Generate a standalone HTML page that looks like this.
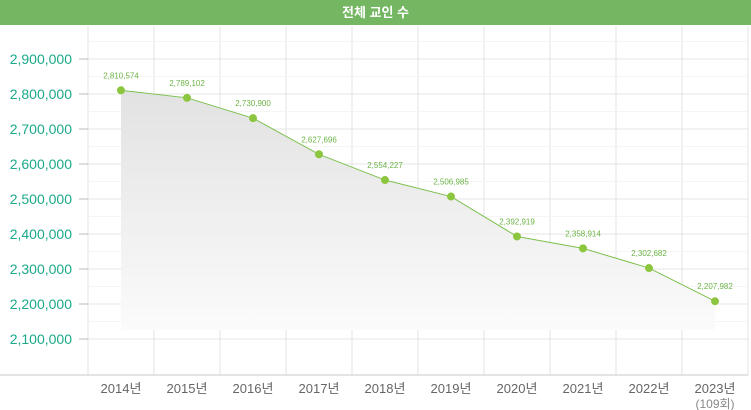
<!DOCTYPE html>
<html><head><meta charset="utf-8"><style>
body{margin:0;width:751px;height:410px;background:#fff;overflow:hidden;font-family:"Liberation Sans","Noto Sans CJK KR",sans-serif}
#hdr{position:absolute;left:0;top:0;width:751px;height:25px;background:#74b662;color:#fff;font-size:13px;font-weight:bold;text-align:center;line-height:25px}
svg{position:absolute;left:0;top:0}
</style></head><body>
<div id="hdr">전체 교인 수</div>
<svg id="c" width="751" height="410">
<defs><linearGradient id="g" x1="0" y1="0" x2="0" y2="1"><stop offset="0" stop-color="#e2e2e2"/><stop offset="1" stop-color="#fbfbfb"/></linearGradient></defs>
</svg>
<script>
const categories=["2014년","2015년","2016년","2017년","2018년","2019년","2020년","2021년","2022년","2023년"];
const values=[2810574,2789102,2730900,2627696,2554227,2506985,2392919,2358914,2302682,2207982];
const yTicks=[2100000,2200000,2300000,2400000,2500000,2600000,2700000,2800000,2900000];
const NS="http://www.w3.org/2000/svg",svg=document.getElementById('c');
const x0=88,step=66,yTop=59,yBot=339,vMin=2100000,vMax=2900000;
const xs=i=>x0+step*(i+0.5);
const ys=v=>yBot-(v-vMin)/(vMax-vMin)*(yBot-yTop);
function mk(t,a,p){const e=document.createElementNS(NS,t);for(const k in a)e.setAttribute(k,a[k]);(p||svg).appendChild(e);return e;}
const grid=mk('g',{});


for(let i=0;i<=categories.length;i++){mk('line',{x1:x0+step*i,x2:x0+step*i,y1:26,y2:375,stroke:'#f1f1f1','stroke-width':2},grid);}
yTicks.forEach((t,i)=>{const y=ys(t);
mk('line',{x1:x0,x2:748,y1:y,y2:y,stroke:'#e4e4e4'},grid);
mk('line',{x1:x0,x2:748,y1:y-17.5,y2:y-17.5,stroke:'#f5f5f5'},grid);
mk('line',{x1:79,x2:88,y1:y,y2:y,stroke:'#bbb'},grid);
const tx=mk('text',{x:72,y:y+5,'text-anchor':'end','font-size':14,fill:'#1ba98a'});
tx.textContent=t.toLocaleString('en-US');


});
mk('line',{x1:0,x2:748,y1:375,y2:375,stroke:'#c8c8c8'});
let pts=values.map((v,i)=>xs(i)+','+ys(v)).join(' ');
const area=mk('polygon',{points:pts+' '+xs(values.length-1)+',330 '+xs(0)+',330',fill:'url(#g)'});


const line=mk('polyline',{points:pts,fill:'none',stroke:'#7cc04f','stroke-width':1});


values.forEach((v,i)=>{
const c=mk('circle',{cx:xs(i),cy:ys(v),r:4,fill:'#8cc63f'});


const l=mk('text',{x:xs(i),y:ys(v)-12,'text-anchor':'middle','font-size':8,fill:'#6cb446'});
l.textContent=v.toLocaleString('en-US');


const xl=mk('text',{x:xs(i),y:393,'text-anchor':'middle','font-size':13,fill:'#666'});
xl.textContent=categories[i];


});
const sub=mk('text',{x:xs(9),y:408,'text-anchor':'middle','font-size':12,fill:'#888'});
sub.textContent='(109회)';


</script>
</body></html>
